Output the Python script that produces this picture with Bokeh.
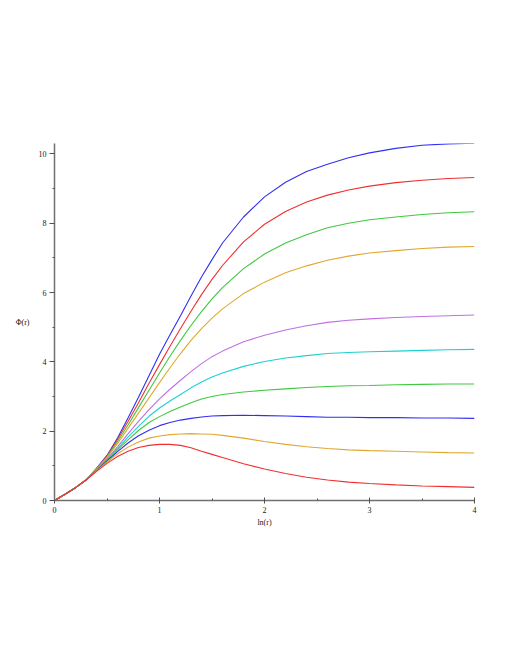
from bokeh.plotting import figure
from bokeh.models import Range1d, FixedTicker
from bokeh.embed import file_html
from bokeh.resources import INLINE

x = [0, 0.1, 0.2, 0.3, 0.4, 0.5, 0.6, 0.7, 0.8, 0.9, 1.0, 1.1, 1.2, 1.3, 1.4, 1.5,
     1.6, 1.8, 2.0, 2.2, 2.4, 2.6, 2.8, 3.0, 3.25, 3.5, 3.75, 4.0]

blue_top = [0, 0.18, 0.37, 0.59, 0.93, 1.30, 1.80, 2.38, 2.98, 3.60, 4.22, 4.78, 5.33, 5.90, 6.45, 6.95,
            7.43, 8.18, 8.76, 9.18, 9.49, 9.70, 9.89, 10.03, 10.16, 10.25, 10.29, 10.31]
red_top = [0, 0.18, 0.37, 0.59, 0.92, 1.28, 1.76, 2.28, 2.82, 3.38, 3.92, 4.45, 4.96, 5.46, 5.94, 6.38,
           6.78, 7.46, 7.97, 8.34, 8.61, 8.81, 8.96, 9.07, 9.17, 9.24, 9.29, 9.32]
green_top = [0, 0.18, 0.37, 0.59, 0.91, 1.26, 1.70, 2.18, 2.68, 3.18, 3.68, 4.16, 4.62, 5.05, 5.45, 5.82,
             6.14, 6.69, 7.11, 7.43, 7.67, 7.87, 8.00, 8.10, 8.18, 8.25, 8.30, 8.33]
orange_top = [0, 0.18, 0.37, 0.59, 0.90, 1.24, 1.64, 2.08, 2.52, 2.96, 3.40, 3.83, 4.24, 4.62, 4.96, 5.26,
              5.53, 5.97, 6.30, 6.57, 6.77, 6.93, 7.05, 7.14, 7.21, 7.27, 7.31, 7.33]
purple = [0, 0.18, 0.37, 0.59, 0.89, 1.20, 1.55, 1.92, 2.28, 2.62, 2.93, 3.21, 3.47, 3.72, 3.95, 4.15,
          4.31, 4.58, 4.77, 4.92, 5.04, 5.14, 5.20, 5.24, 5.28, 5.31, 5.33, 5.35]
cyan = [0, 0.18, 0.37, 0.59, 0.88, 1.18, 1.50, 1.83, 2.14, 2.43, 2.67, 2.87, 3.06, 3.25, 3.42, 3.56,
        3.68, 3.87, 4.01, 4.11, 4.18, 4.24, 4.27, 4.29, 4.31, 4.33, 4.35, 4.36]
green_low = [0, 0.18, 0.37, 0.59, 0.87, 1.16, 1.46, 1.75, 2.02, 2.25, 2.42, 2.57, 2.70, 2.82, 2.93, 3.00,
             3.06, 3.13, 3.18, 3.22, 3.26, 3.29, 3.31, 3.32, 3.34, 3.35, 3.36, 3.36]
blue_low = [0, 0.18, 0.37, 0.59, 0.86, 1.14, 1.41, 1.66, 1.87, 2.03, 2.16, 2.25, 2.32, 2.37, 2.41, 2.44,
            2.45, 2.46, 2.45, 2.44, 2.42, 2.40, 2.40, 2.39, 2.39, 2.38, 2.38, 2.37]
orange_low = [0, 0.18, 0.37, 0.59, 0.85, 1.11, 1.35, 1.54, 1.69, 1.80, 1.86, 1.90, 1.92, 1.93, 1.92, 1.91,
              1.88, 1.80, 1.70, 1.62, 1.55, 1.50, 1.46, 1.44, 1.42, 1.40, 1.38, 1.37]
red_low = [0, 0.18, 0.37, 0.59, 0.84, 1.07, 1.27, 1.42, 1.53, 1.59, 1.62, 1.62, 1.59, 1.52, 1.42, 1.33,
           1.24, 1.06, 0.91, 0.78, 0.67, 0.59, 0.53, 0.49, 0.45, 0.42, 0.40, 0.38]

series = [blue_top, red_top, green_top, orange_top, purple, cyan, green_low, blue_low, orange_low, red_low]
colors = ["#3030F0", "#F03030", "#40C840", "#E0A830", "#C070E0", "#20D0D0",
          "#40C840", "#3030F0", "#E0A830", "#F03030"]

x_ticks = [0, 1, 2, 3, 4]
x_minor = [0.5, 1.5, 2.5, 3.5]
y_ticks = [0, 2, 4, 6, 8, 10]
y_minor = [1, 3, 5, 7, 9]

p = figure(width=502, height=650, output_backend="svg", toolbar_location=None,
           x_range=Range1d(0, 4), y_range=Range1d(0, 10.3),
           min_border_left=54, min_border_right=28, min_border_top=143, min_border_bottom=150)
p.outline_line_color = None
p.xgrid.visible = False
p.ygrid.visible = False
p.background_fill_color = "white"

for ys, c in zip(series, colors):
    p.line(x, ys, line_color=c, line_width=1.1)

font = "Liberation Serif"
p.xaxis.ticker = FixedTicker(ticks=x_ticks, minor_ticks=x_minor)
p.yaxis.ticker = FixedTicker(ticks=y_ticks, minor_ticks=y_minor)
for ax in (p.xaxis[0], p.yaxis[0]):
    ax.axis_line_color = "#707070"
    ax.axis_line_width = 1.5
    ax.major_tick_line_color = "#505050"
    ax.minor_tick_line_color = "#505050"
    ax.major_label_text_font = font
    ax.major_label_text_font_size = "8px"
    ax.major_label_text_color = "#202020"
    ax.axis_label_text_font = font
    ax.axis_label_text_font_size = "8px"
    ax.axis_label_text_font_style = "normal"
    ax.axis_label_text_color = "#202020"

p.xaxis.major_tick_in = 3
p.xaxis.major_tick_out = 3
p.xaxis.minor_tick_in = 2
p.xaxis.minor_tick_out = 0
p.xaxis.major_label_standoff = 3
p.xaxis.axis_label = "ln(r)"
p.xaxis.axis_label_standoff = 2

p.yaxis.major_tick_in = 0
p.yaxis.major_tick_out = 5
p.yaxis.minor_tick_in = 0
p.yaxis.minor_tick_out = 2
p.yaxis.major_label_standoff = 3
p.yaxis.axis_label = "Φ(r)"
p.yaxis.axis_label_orientation = "horizontal"
p.yaxis.axis_label_standoff = 6

open("out.html", "w").write(file_html(p, INLINE))
